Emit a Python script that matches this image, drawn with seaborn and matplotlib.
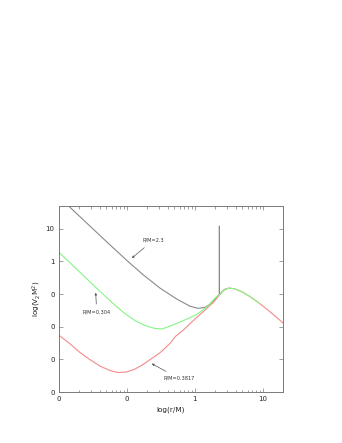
import matplotlib
matplotlib.use("Agg")
import matplotlib.pyplot as plt
import seaborn as sns
import numpy as np
import pandas as pd
from matplotlib.ticker import FixedLocator, FixedFormatter, LogLocator, NullFormatter, NullLocator

# ---- data ----
# R/M = 2.3 (interior part, then spike at the surface)
gray_r = [0.01417, 0.02886, 0.0568, 0.1118, 0.1754, 0.3089, 0.5435, 0.853, 1.118, 1.417, 1.737, 2.057, 2.3, 2.3, 2.3]
gray_V = [48.7, 12.07, 3.21, 0.876, 0.387, 0.152, 0.0705, 0.0424, 0.0366, 0.0392, 0.0519, 0.0762, 0.098, 12.0, 0.095]

# R/M = 0.304 (interior part)
green_r = [0.01, 0.01466, 0.02436, 0.0405, 0.0673, 0.0944, 0.1325, 0.1858, 0.2607, 0.3304, 0.4333, 0.6079,
           0.853, 1.081, 1.338, 1.623, 1.877, 2.128, 2.3]
green_V = [1.93, 0.913, 0.332, 0.1207, 0.0454, 0.0251, 0.01541, 0.01087, 0.00882, 0.00852, 0.0105, 0.01388,
           0.019, 0.0243, 0.0332, 0.0471, 0.0667, 0.0852, 0.095]

# R/M = 0.3817 (interior part)
red_r = [0.01, 0.01466, 0.0203, 0.02886, 0.0405, 0.0568, 0.0745, 0.0977, 0.128, 0.1679, 0.2202, 0.3089,
         0.4333, 0.5203, 0.6798, 0.853, 1.081, 1.338, 1.623, 1.877, 2.128, 2.3]
red_V = [0.0056, 0.00299, 0.001653, 0.000979, 0.000622, 0.000455, 0.000395, 0.000409, 0.000488, 0.000667,
         0.000979, 0.001596, 0.0031, 0.00505, 0.00794, 0.0125, 0.01967, 0.0293, 0.0424, 0.056, 0.0767, 0.095]

# common exterior part
ext_r = [2.3, 2.4, 2.6, 2.8, 3.0, 3.3, 3.7, 4.2, 5.0, 6.0, 7.0, 8.0, 9.0, 10.0, 12.0, 14.0, 17.0, 20.0]
ext_V = [0.095, 0.104, 0.126, 0.1406, 0.148, 0.1513, 0.147, 0.1357, 0.1152, 0.0926, 0.0749, 0.0615, 0.0512,
         0.0432, 0.0318, 0.0244, 0.01724, 0.0128]
green_ext_end = 9.0
gray_ext_end = 3.3

labels = ["R/M=2.3", "R/M=0.304", "R/M=0.3817"]
x_ticks = [0.01, 0.1, 1, 10]
x_tick_labels = ["0", "0", "1", "10"]
y_ticks = [1e-4, 1e-3, 1e-2, 1e-1, 1, 10]
y_tick_labels = ["0", "0", "0", "0", "1", "10"]

# ---- figure ----
sns.set_style("ticks")
plt.rcParams["font.family"] = ["DejaVu Sans"]

fig = plt.figure(figsize=(3.42, 4.43), dpi=100)
ax = fig.add_axes([0.1716, 0.1151, 0.6568, 0.4199])

gray_c = "#8a8a8a"
green_c = "#86f586"
red_c = "#f58a8a"

def series(r, V, er, eV, end):
    rr = list(r) + [a for a in er[1:] if a <= end]
    vv = list(V) + [b for a, b in zip(er[1:], eV[1:]) if a <= end]
    return pd.DataFrame({"r": rr, "V": vv})

d_gray = series(gray_r, gray_V, ext_r, ext_V, gray_ext_end)
d_red = series(red_r, red_V, ext_r, ext_V, 100)
d_green = series(green_r, green_V, ext_r, ext_V, green_ext_end)

lw = 0.8
sns.lineplot(data=d_gray, x="r", y="V", sort=False, estimator=None, color=gray_c, lw=lw, ax=ax)
sns.lineplot(data=d_red, x="r", y="V", sort=False, estimator=None, color=red_c, lw=lw, ax=ax)
sns.lineplot(data=d_green, x="r", y="V", sort=False, estimator=None, color=green_c, lw=lw, ax=ax)

ax.set_xscale("log")
ax.set_yscale("log")
ax.set_xlim(0.01, 20)
ax.set_ylim(1e-4, 50)

ax.xaxis.set_major_locator(FixedLocator(x_ticks))
ax.xaxis.set_major_formatter(FixedFormatter(x_tick_labels))
ax.xaxis.set_minor_locator(LogLocator(base=10, subs=np.arange(2, 10)))
ax.xaxis.set_minor_formatter(NullFormatter())
ax.yaxis.set_major_locator(FixedLocator(y_ticks))
ax.yaxis.set_major_formatter(FixedFormatter(y_tick_labels))
ax.yaxis.set_minor_locator(NullLocator())

frame_c = "#7a7a7a"
for s in ax.spines.values():
    s.set_visible(True)
    s.set_color(frame_c)
    s.set_linewidth(0.7)
ax.tick_params(which="both", direction="in", top=True, right=True, colors=frame_c,
               labelcolor="#222222", labelsize=5, width=0.5, pad=3)
ax.tick_params(which="major", length=3)
ax.tick_params(which="minor", length=1.8)

ax.set_xlabel("log(r/M)", fontsize=5.2, color="#222222", labelpad=3)
ax.set_ylabel(r"log(V$_2$M$^2$)", fontsize=5.2, color="#222222", labelpad=2)

arrow = dict(arrowstyle="-|>", color="#555555", lw=0.5, mutation_scale=3, shrinkA=2, shrinkB=0)
ax.annotate(labels[0], xy=(0.119, 1.27), xytext=(0.246, 4.5), fontsize=3.6, color="#333333",
            ha="center", va="center", arrowprops=arrow)
ax.annotate(labels[1], xy=(0.035, 0.110), xytext=(0.0362, 0.0273), fontsize=3.6, color="#333333",
            ha="center", va="center", arrowprops=arrow)
ax.annotate(labels[2], xy=(0.233, 7.4e-4), xytext=(0.587, 2.6e-4), fontsize=3.6, color="#333333",
            ha="center", va="center", arrowprops=arrow)

fig.savefig("out.png", dpi=100, facecolor="white")
